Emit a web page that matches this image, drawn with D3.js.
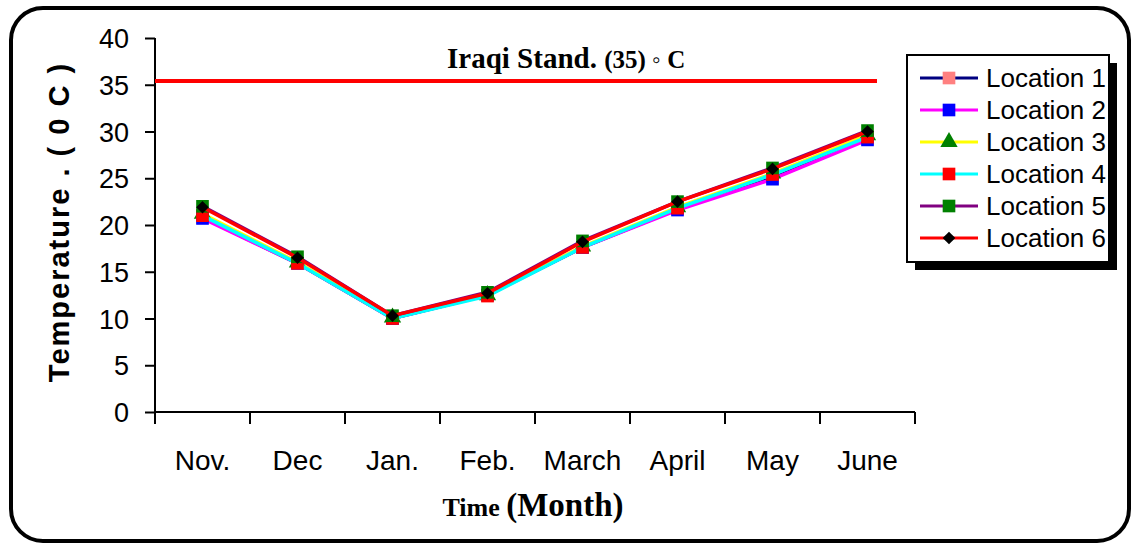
<!DOCTYPE html>
<html>
<head>
<meta charset="utf-8">
<script src="https://cdn.jsdelivr.net/npm/d3@7"></script>
<style>
  body { margin: 0; background: #fff; }
  svg { display: block; }
  .tick text { font-family: "Liberation Sans", Arial, sans-serif; fill: #000; }
</style>
</head>
<body>
<div id="chart"></div>
<script>
const months = ['Nov.', 'Dec', 'Jan.', 'Feb.', 'March', 'April', 'May', 'June'];
const yTicks = [0, 5, 10, 15, 20, 25, 30, 35, 40];
const standard = 35.4;

const loc1 = [20.8, 15.9, 10.0, 12.5, 17.6, 21.7, 25.0, 29.2];
const loc2 = [20.7, 15.9, 10.0, 12.5, 17.6, 21.6, 24.9, 29.1];
const loc3 = [21.2, 16.0, 10.1, 12.5, 17.7, 21.9, 25.5, 29.6];
const loc4 = [21.0, 15.9, 10.0, 12.4, 17.6, 21.8, 25.4, 29.4];
const loc5 = [22.0, 16.6, 10.3, 12.8, 18.3, 22.5, 26.1, 30.1];
const loc6 = [21.9, 16.5, 10.3, 12.7, 18.2, 22.5, 26.0, 30.0];

const series = [
  { name: 'Location 1', values: loc1, line: '#000080', fill: '#ff8080', shape: 'square' },
  { name: 'Location 2', values: loc2, line: '#ff00ff', fill: '#0000ff', shape: 'square' },
  { name: 'Location 3', values: loc3, line: '#ffff00', fill: '#008000', shape: 'triangle' },
  { name: 'Location 4', values: loc4, line: '#00ffff', fill: '#ff0000', shape: 'square' },
  { name: 'Location 5', values: loc5, line: '#800080', fill: '#008000', shape: 'square' },
  { name: 'Location 6', values: loc6, line: '#ff0000', fill: '#000000', shape: 'diamond' },
];

const W = 1134, H = 544;
const svg = d3.select('#chart').append('svg')
  .attr('width', W)
  .attr('height', H);

// outer frame
svg.append('rect')
  .attr('x', 11).attr('y', 8)
  .attr('width', 1118).attr('height', 533)
  .attr('rx', 32).attr('ry', 32)
  .attr('fill', '#fff')
  .attr('stroke', '#000')
  .attr('stroke-width', 4);

const x = d3.scaleBand().domain(months).range([155, 915]);
const y = d3.scaleLinear().domain([0, 40]).range([412, 38]);

// y axis
const yAxis = svg.append('g')
  .attr('transform', 'translate(155,0)')
  .call(d3.axisLeft(y).tickValues(yTicks).tickSize(10).tickSizeOuter(0).tickPadding(16));
yAxis.select('.domain').remove();
yAxis.selectAll('.tick line').attr('stroke', '#000').attr('stroke-width', 2);
yAxis.selectAll('.tick text').style('font-size', '27px').attr('dy', '0.36em');
svg.append('line')
  .attr('x1', 155).attr('x2', 155)
  .attr('y1', y(40)).attr('y2', y(0) + 12)
  .attr('stroke', '#000').attr('stroke-width', 2);

// x axis
const xAxis = svg.append('g')
  .attr('transform', `translate(0,${y(0)})`)
  .call(d3.axisBottom(x).tickSize(0).tickPadding(38));
xAxis.select('.domain').remove();
xAxis.selectAll('.tick text').style('font-size', '28px');
svg.append('line')
  .attr('x1', 155).attr('x2', 915)
  .attr('y1', y(0)).attr('y2', y(0))
  .attr('stroke', '#000').attr('stroke-width', 2);
svg.append('g').selectAll('line')
  .data(months.slice(1).map(m => x(m)).concat([x.range()[1]]))
  .join('line')
  .attr('x1', d => d).attr('x2', d => d)
  .attr('y1', y(0)).attr('y2', y(0) + 12)
  .attr('stroke', '#000').attr('stroke-width', 2);

// standard line
svg.append('line')
  .attr('x1', 155).attr('x2', 877)
  .attr('y1', y(standard)).attr('y2', y(standard))
  .attr('stroke', '#ff0000').attr('stroke-width', 4);

const stdLabel = svg.append('text')
  .attr('x', 447).attr('y', 68)
  .attr('font-family', '"Liberation Serif", "Times New Roman", serif')
  .attr('font-weight', 'bold')
  .attr('fill', '#000');
stdLabel.append('tspan').attr('font-size', 29).text('Iraqi Stand. ');
stdLabel.append('tspan').attr('font-size', 25).text('(35) ◦ C');

// axis titles
svg.append('text')
  .attr('transform', 'translate(69,222) rotate(-90)')
  .attr('text-anchor', 'middle')
  .attr('font-family', '"Liberation Sans", Arial, sans-serif')
  .attr('font-weight', 'bold')
  .attr('font-size', 29)
  .attr('letter-spacing', 2)
  .text('Temperature . ( 0 C )');

const xTitle = svg.append('text')
  .attr('x', 533).attr('y', 516)
  .attr('text-anchor', 'middle')
  .attr('font-family', '"Liberation Serif", "Times New Roman", serif')
  .attr('font-weight', 'bold');
xTitle.append('tspan').attr('font-size', 26).text('Time ');
xTitle.append('tspan').attr('font-size', 33).text('(Month)');

// markers
const squareSym = d3.symbol().type(d3.symbolSquare).size(160);
const triSym = d3.symbol().type(d3.symbolTriangle).size(130);
const diamondSym = d3.symbol().type(d3.symbolSquare).size(80);

function drawMarker(g, shape, fill) {
  if (shape === 'square') {
    g.append('path').attr('d', squareSym()).attr('fill', fill);
  } else if (shape === 'triangle') {
    g.append('path').attr('d', triSym()).attr('fill', fill);
  } else {
    g.append('path').attr('d', diamondSym()).attr('transform', 'rotate(45)').attr('fill', fill);
  }
}

const line = d3.line()
  .x((d, i) => x(months[i]) + x.bandwidth() / 2)
  .y(d => y(d));

const plot = svg.append('g');
series.forEach(s => {
  plot.append('path')
    .datum(s.values)
    .attr('d', line)
    .attr('fill', 'none')
    .attr('stroke', s.line)
    .attr('stroke-width', 3.5);
  s.values.forEach((v, i) => {
    const g = plot.append('g')
      .attr('transform', `translate(${x(months[i]) + x.bandwidth() / 2},${y(v)})`);
    drawMarker(g, s.shape, s.fill);
  });
});

// legend
const lg = svg.append('g');
lg.append('rect')
  .attr('x', 915).attr('y', 63)
  .attr('width', 202).attr('height', 207)
  .attr('fill', '#000');
lg.append('rect')
  .attr('x', 907).attr('y', 55)
  .attr('width', 202).attr('height', 207)
  .attr('fill', '#fff')
  .attr('stroke', '#000')
  .attr('stroke-width', 2);

series.forEach((s, i) => {
  const cy = 78 + i * 32;
  lg.append('line')
    .attr('x1', 920).attr('x2', 978)
    .attr('y1', cy).attr('y2', cy)
    .attr('stroke', s.line)
    .attr('stroke-width', 3);
  const g = lg.append('g').attr('transform', `translate(949,${cy})`);
  drawMarker(g, s.shape, s.fill);
  lg.append('text')
    .attr('x', 986).attr('y', cy)
    .attr('dy', '0.36em')
    .attr('font-family', '"Liberation Sans", Arial, sans-serif')
    .attr('font-size', 26)
    .text(s.name);
});
</script>
</body>
</html>
